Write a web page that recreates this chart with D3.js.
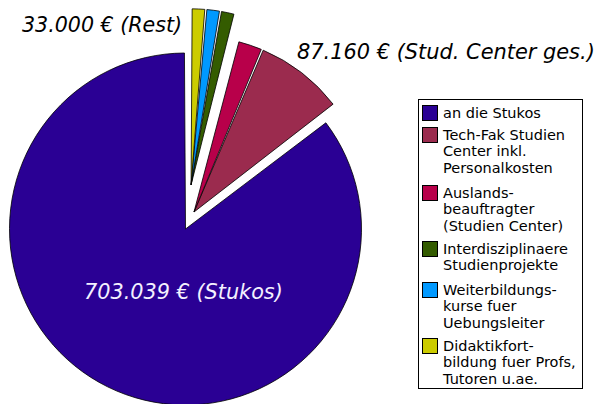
<!DOCTYPE html>
<html><head><meta charset="utf-8">
<script src="https://cdn.jsdelivr.net/npm/d3@7"></script>
<style>html,body{margin:0;padding:0;background:#fff;}svg{display:block;}</style>
</head><body>
<svg id="chart" width="595" height="404"></svg>
<script>
// Data (legend order)
const categories = [
  "an die Stukos",
  "Tech-Fak Studien Center inkl. Personalkosten",
  "Auslands-beauftragter (Studien Center)",
  "Interdisziplinaere Studienprojekte",
  "Weiterbildungs-kurse fuer Uebungsleiter",
  "Didaktikfort-bildung fuer Profs, Tutoren u.ae."
];
const legendLines = [
  ["an die Stukos"],
  ["Tech-Fak Studien", "Center inkl.", "Personalkosten"],
  ["Auslands-", "beauftragter", "(Studien Center)"],
  ["Interdisziplinaere", "Studienprojekte"],
  ["Weiterbildungs-", "kurse fuer", "Uebungsleiter"],
  ["Didaktikfort-", "bildung fuer Profs,", "Tutoren u.ae."]
];
const values = [703039, 68000, 19160, 11000, 11000, 11000];
const groups = [0, 1, 1, 2, 2, 2];          // which slices are exploded together
const groupLabels = ["703.039 € (Stukos)", "87.160 € (Stud. Center ges.)", "33.000 € (Rest)"];
const colors = ["#2a0094", "#9b2b4e", "#b8004a", "#345c00", "#0099ff", "#cccc00"];

// Layout
const cx = 185.5, cy = 229, R = 176;
const explode = [0, 19, 44.5];
const svg = d3.select("#chart");

const pie = d3.pie().sort(null).value(d => d).startAngle(2 * Math.PI).endAngle(0);
const arcs = pie(values);
const arc = d3.arc().innerRadius(0).outerRadius(R).padAngle(0.012).padRadius(R);

// group mid angles
const gMid = [0, 1, 2].map(g => {
  const a = arcs.filter((d, i) => groups[i] === g);
  const angs = a.flatMap(d => [d.startAngle, d.endAngle]);
  return (d3.min(angs) + d3.max(angs)) / 2;
});

const pieG = svg.append("g").attr("transform", `translate(${cx},${cy})`);
pieG.selectAll("path").data(arcs).join("path")
  .attr("d", arc)
  .attr("transform", (d, i) => {
    const g = groups[i], m = gMid[g] - (g === 1 ? 0.12 : 0), e = explode[g];
    return `translate(${e * Math.sin(m)},${-e * Math.cos(m)})`;
  })
  .attr("fill", (d, i) => colors[i])
  .attr("stroke", "#000").attr("stroke-width", 0.8).attr("stroke-linejoin", "round");

// value labels
const labelFont = "'DejaVu Sans', sans-serif";
svg.append("text").attr("x", 22).attr("y", 32).text(groupLabels[2])
  .attr("font-family", labelFont).attr("font-style", "italic").attr("font-size", 20.6).attr("fill", "#000");
svg.append("text").attr("x", 297).attr("y", 59).text(groupLabels[1])
  .attr("font-family", labelFont).attr("font-style", "italic").attr("font-size", 20.9).attr("fill", "#000");
svg.append("text").attr("x", 84).attr("y", 299).text(groupLabels[0])
  .attr("font-family", labelFont).attr("font-style", "italic").attr("font-size", 20.8).attr("fill", "#f4f0ff");

// legend
const lg = svg.append("g");
lg.append("rect").attr("x", 418.5).attr("y", 99.5).attr("width", 164).attr("height", 289)
  .attr("fill", "#fff").attr("stroke", "#000").attr("stroke-width", 1);
const tops = [105, 127, 185, 241, 282, 338];
const lineH = 16.3;
legendLines.forEach((lines, i) => {
  lg.append("rect").attr("x", 422.5).attr("y", tops[i] + 0.5).attr("width", 15).attr("height", 15)
    .attr("fill", colors[i]).attr("stroke", "#000").attr("stroke-width", 1);
  const t = lg.append("text").attr("font-family", labelFont).attr("font-size", 14.5).attr("fill", "#000");
  lines.forEach((l, j) => {
    t.append("tspan").attr("x", 443).attr("y", tops[i] + 13 + j * lineH).text(l);
  });
});
</script>
</body></html>
